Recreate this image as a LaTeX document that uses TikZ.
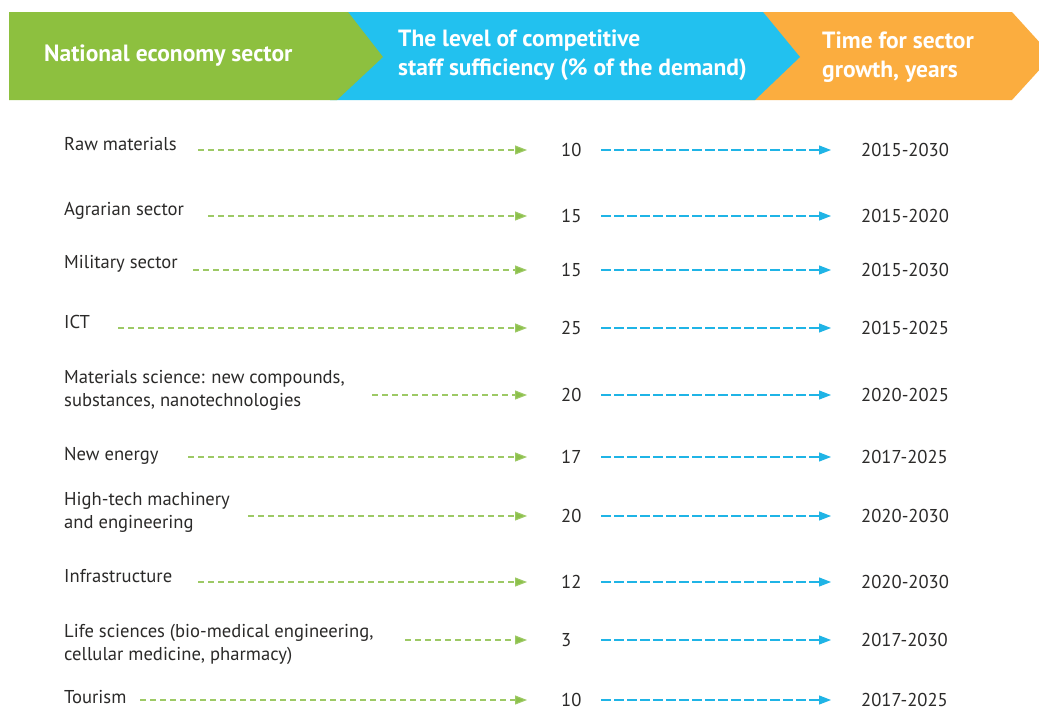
\documentclass[tikz,border=0pt]{standalone}
\usepackage{fontspec}
\setmainfont{PT Sans}
\usetikzlibrary{arrows.meta}
\definecolor{hgreen}{HTML}{8DC03F}
\definecolor{hblue}{HTML}{22C1EF}
\definecolor{horange}{HTML}{FBAD3F}
\definecolor{agreen}{HTML}{8CC04A}
\definecolor{ablue}{HTML}{1FB4E6}
\definecolor{txt}{HTML}{2B2A29}
\tikzset{
  head/.style={anchor=west,inner sep=0,text=white,font=\fontsize{23.5}{29}\selectfont\bfseries,align=left},
  lab/.style={anchor=west,inner sep=0,text=txt,font=\fontsize{18.6}{23}\selectfont,align=left},
  num/.style={anchor=west,inner sep=0,text=txt,font=\fontsize{18.6}{23}\selectfont,text width=22pt,align=left},
  yr/.style={anchor=west,inner sep=0,text=txt,font=\fontsize{18.6}{23}\selectfont},
  garrow/.style={draw=agreen!85,line width=1.1pt,dash pattern=on 6pt off 4pt,-{Triangle[length=12pt,width=9pt,fill=agreen]},shorten >=34pt},
  barrow/.style={draw=ablue,line width=1.1pt,dash pattern=on 10pt off 3pt,-{Triangle[length=12pt,width=9pt]},shorten <=18pt,shorten >=30pt}
}
\begin{document}
\begin{tikzpicture}[x=1pt,y=-1pt]
\useasboundingbox (0,0) rectangle (1039,710);
\fill[white] (0,0) rectangle (1039,710);
% header
\fill[horange] (740,12) -- (1012,12) -- (1052,56) -- (1012,100) -- (740,100) -- cycle;
\fill[hblue] (330,12) -- (763,12) -- (800,57) -- (755,100) -- (330,100) -- cycle;
\fill[hgreen] (9,12) -- (348,12) -- (383,57) -- (337,100) -- (9,100) -- cycle;
\node[head] (h1) at (44,56) {National economy sector};
\node[head] (h2) at (398,55) {The level of competitive\\staff sufficiency (\% of the demand)};
\node[head] (h3) at (822,57) {Time for sector\\growth, years};
% rows
\foreach \i/\ly/\ay/\gx/\lt/\nv/\yv in {
  1/144/150/198/{Raw materials}/10/2015-2030,
  2/211/216/208/{Agrarian sector}/15/2015-2020,
  3/264/270/193/{Military sector}/15/2015-2030,
  4/322/328/118/{ICT}/25/2015-2025,
  5/390/395/372/{Materials science: new compounds,\\substances, nanotechnologies}/20/2020-2025,
  6/456/457/188/{New energy}/17/2017-2025,
  7/512/516/248/{High-tech machinery\\and engineering}/20/2020-2030,
  8/576/582/198/{Infrastructure}/12/2020-2030,
  9/644/640/405/{Life sciences (bio-medical engineering,\\cellular medicine, pharmacy)}/3/2017-2030,
  10/697/700/140/{Tourism}/10/2017-2025}{
  \node[lab] (l\i) at (64,\ly) {\lt};
  \coordinate (g\i) at (\gx,\ay);
  \node[num] (n\i) at (561,\ay) {\nv};
  \node[yr] (y\i) at (861,\ay) {\yv};
  \draw[garrow] (g\i) -- (n\i.west);
  \draw[barrow] (n\i.east) -- (y\i.west);
}
\end{tikzpicture}
\end{document}
